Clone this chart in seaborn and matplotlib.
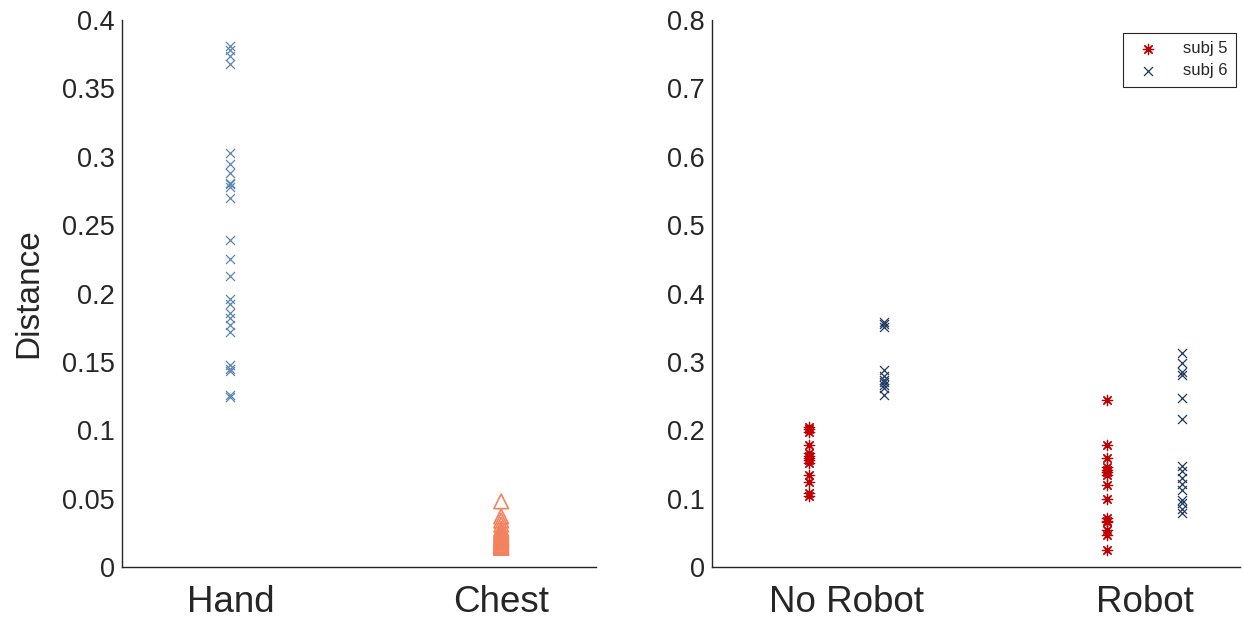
import numpy as np
import pandas as pd
import matplotlib
matplotlib.use("Agg")
import matplotlib.pyplot as plt
from matplotlib.ticker import FuncFormatter, MultipleLocator
import seaborn as sns

# ---------------- data ----------------
left_categories = ["Hand", "Chest"]
hand = [0.381, 0.378, 0.374, 0.368, 0.303, 0.295, 0.288, 0.281, 0.280, 0.278,
        0.270, 0.239, 0.225, 0.213, 0.196, 0.192, 0.186, 0.182, 0.177, 0.172,
        0.148, 0.145, 0.143, 0.126, 0.124]
chest = [0.048, 0.037, 0.034, 0.031, 0.028, 0.027, 0.026, 0.025, 0.024, 0.023,
         0.022, 0.022, 0.021, 0.020, 0.020, 0.019, 0.018, 0.018, 0.017, 0.016,
         0.016, 0.015, 0.015, 0.014, 0.014]

right_categories = ["No Robot", "Robot"]
subjects = ["subj 5", "subj 6"]
subj5_norobot = [0.205, 0.202, 0.198, 0.178, 0.167, 0.163, 0.160, 0.157, 0.152,
                 0.135, 0.124, 0.108, 0.104]
subj6_norobot = [0.359, 0.355, 0.351, 0.288, 0.280, 0.274, 0.270, 0.266, 0.262, 0.252]
subj5_robot = [0.244, 0.178, 0.159, 0.146, 0.142, 0.139, 0.135, 0.120, 0.100,
               0.071, 0.068, 0.066, 0.054, 0.047, 0.025]
subj6_robot = [0.313, 0.298, 0.285, 0.281, 0.247, 0.216, 0.147, 0.140, 0.130,
               0.122, 0.113, 0.098, 0.093, 0.085, 0.079]

# ---------------- style ----------------
sns.set_style("white")
plt.rcParams["font.family"] = ["Liberation Sans", "DejaVu Sans"]
plt.rcParams["axes.edgecolor"] = "#262626"
plt.rcParams["axes.linewidth"] = 1.0

FS = 19.5
hand_color = "#5b86b3"
chest_color = "#f3825f"
s5_color = "#c00000"
s6_color = "#1f3864"
asterisk = (8, 2, 0)

fig = plt.figure(figsize=(12.43, 6.22), dpi=100)
ax1 = fig.add_axes([122 / 1243, 55 / 622, 474 / 1243, 547 / 622])
ax2 = fig.add_axes([712 / 1243, 55 / 622, 528 / 1243, 547 / 622])

# ---------------- left panel ----------------
left_df = pd.DataFrame({
    "pos": [0] * len(hand) + [1] * len(chest),
    "Distance": hand + chest,
})
sns.scatterplot(data=left_df[left_df.pos == 0], x="pos", y="Distance", ax=ax1,
                marker="x", color=hand_color, s=42, linewidth=0.9, legend=False)
sns.scatterplot(data=left_df[left_df.pos == 1], x="pos", y="Distance", ax=ax1,
                marker="^", facecolor="none", edgecolor=chest_color, s=110,
                linewidth=1.2, legend=False)
ax1.set_xticks(range(len(left_categories)))
ax1.set_xticklabels(left_categories)
ax1.set_xlim(-0.4, 1.35)
ax1.set_ylim(0, 0.4)
ax1.yaxis.set_major_locator(MultipleLocator(0.05))
ax1.set_ylabel("Distance", fontsize=24, labelpad=13)
ax1.set_xlabel("")

# ---------------- right panel ----------------
offset = 0.125
rows = []
for ci, (a, b) in enumerate([(subj5_norobot, subj6_norobot), (subj5_robot, subj6_robot)]):
    for v in a:
        rows.append({"pos": ci - offset, "Distance": v, "subject": subjects[0]})
    for v in b:
        rows.append({"pos": ci + offset, "Distance": v, "subject": subjects[1]})
right_df = pd.DataFrame(rows)
sns.scatterplot(data=right_df[right_df.subject == subjects[0]], x="pos", y="Distance",
                ax=ax2, marker=asterisk, color=s5_color, edgecolor=s5_color, s=55,
                linewidth=0.9, label=subjects[0])
sns.scatterplot(data=right_df[right_df.subject == subjects[1]], x="pos", y="Distance",
                ax=ax2, marker="x", color=s6_color, s=42, linewidth=0.9,
                label=subjects[1])
ax2.set_xticks(range(len(right_categories)))
ax2.set_xticklabels(right_categories)
ax2.set_xlim(-0.45, 1.32)
ax2.set_ylim(0, 0.8)
ax2.yaxis.set_major_locator(MultipleLocator(0.1))
ax2.set_ylabel("")
ax2.set_xlabel("")
leg = ax2.legend(loc="upper right", fontsize=12, frameon=True, fancybox=False,
                 edgecolor="#262626", framealpha=1, borderpad=0.5,
                 handletextpad=1.1, labelspacing=0.42, borderaxespad=0,
                 bbox_to_anchor=(0.992, 0.976))
leg.get_frame().set_linewidth(0.8)

fmt = FuncFormatter(lambda v, p: "%g" % round(v, 4))
for ax in (ax1, ax2):
    ax.yaxis.set_major_formatter(fmt)
    sns.despine(ax=ax)
    ax.tick_params(direction="in", length=5, width=0.8, colors="#262626",
                   labelsize=FS, labelcolor="#262626")
    ax.tick_params(axis="x", length=0, pad=13, labelsize=26.5)
    ax.tick_params(axis="y", pad=5)

fig.savefig("out.png", dpi=100)
